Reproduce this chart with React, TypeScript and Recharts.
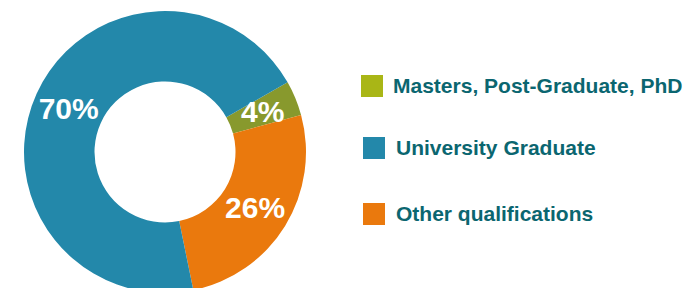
import * as React from "react";
import { PieChart, Pie, Cell, Legend } from "recharts";

// Education level shares (percent), in drawing order (clockwise)
const categories = ["Masters, Post-Graduate, PhD", "Other qualifications", "University Graduate"];
const shares = [4, 26, 70];
const sliceColors = ["#88992d", "#ea790d", "#2388aa"];

// Legend order and swatch colours
const legendOrder = ["Masters, Post-Graduate, PhD", "University Graduate", "Other qualifications"];
const legendColors = ["#a9b616", "#2388aa", "#ea790d"];

const data = categories.map((name, i) => ({ name, value: shares[i] }));

const RADIAN = Math.PI / 180;

// White percent label at the middle of each ring segment
const renderLabel = (props: any) => {
  const { cx, cy, midAngle, innerRadius, outerRadius, value } = props;
  const r = (innerRadius + outerRadius) / 2;
  const x = cx + r * Math.cos(-midAngle * RADIAN);
  const y = cy + r * Math.sin(-midAngle * RADIAN);
  return (
    <text
      x={x}
      y={y}
      fill="#ffffff"
      textAnchor="middle"
      dominantBaseline="central"
      fontSize={30}
      fontWeight="bold"
      fontFamily="'Liberation Sans', Arial, sans-serif"
    >
      {value}%
    </text>
  );
};

const LegendContent = () => (
  <div style={{ fontFamily: "'Liberation Sans', Arial, sans-serif" }}>
    {legendOrder.map((name, i) => (
      <div
        key={name}
        style={{ display: "flex", alignItems: "center", height: 22, marginBottom: i === 0 ? 40 : 44 }}
      >
        <div
          style={{
            width: 22,
            height: 22,
            backgroundColor: legendColors[i],
            marginLeft: i === 0 ? 0 : 2,
            marginRight: i === 0 ? 10 : 11,
          }}
        />
        <span style={{ color: "#0b6670", fontSize: 21, fontWeight: "bold", whiteSpace: "nowrap" }}>
          {name}
        </span>
      </div>
    ))}
  </div>
);

export default function App() {
  return (
    <div style={{ position: "absolute", left: 0, top: 0, width: 683, height: 288, background: "#fff" }}>
      <PieChart width={683} height={288} margin={{ top: 0, right: 0, bottom: 0, left: 0 }}>
        <Pie
          data={data}
          dataKey="value"
          nameKey="name"
          cx={165}
          cy={152}
          innerRadius={70.5}
          outerRadius={141}
          startAngle={29.6}
          endAngle={-330.4}
          stroke="none"
          label={renderLabel}
          labelLine={false}
          isAnimationActive={false}
        >
          {data.map((d, i) => (
            <Cell key={d.name} fill={sliceColors[i]} />
          ))}
        </Pie>
        <Legend
          content={<LegendContent />}
          wrapperStyle={{ position: "absolute", left: 361, top: 75, width: 322 }}
        />
      </PieChart>
    </div>
  );
}
